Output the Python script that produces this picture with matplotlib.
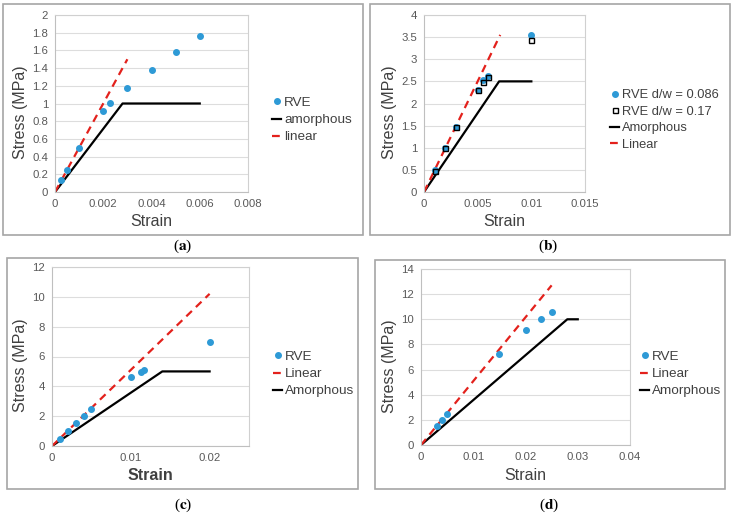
import matplotlib
matplotlib.use('Agg')
import matplotlib.pyplot as plt
from matplotlib.patches import Rectangle
from matplotlib.ticker import FuncFormatter

plt.rcParams['font.family'] = ['Liberation Sans', 'DejaVu Sans']
plt.rcParams['mathtext.fontset'] = 'stix'

# panel (a)
a_rve_x = [0.00025, 0.0005, 0.001, 0.002, 0.0023, 0.003, 0.004, 0.005, 0.006]
a_rve_y = [0.13, 0.25, 0.5, 0.92, 1.01, 1.18, 1.38, 1.58, 1.76]
a_amor_x = [0, 0.0028, 0.006]
a_amor_y = [0, 1.0, 1.0]
a_lin_x = [0, 0.003]
a_lin_y = [0, 1.5]

# panel (b)
b_rve1_x = [0.001, 0.002, 0.003, 0.005, 0.0055, 0.006, 0.01]
b_rve1_y = [0.5, 1.0, 1.48, 2.31, 2.52, 2.63, 3.55]
b_rve2_x = [0.001, 0.002, 0.003, 0.005, 0.0055, 0.006, 0.01]
b_rve2_y = [0.48, 0.99, 1.46, 2.30, 2.48, 2.59, 3.44]
b_amor_x = [0, 0.007, 0.01]
b_amor_y = [0, 2.5, 2.5]
b_lin_x = [0, 0.0071]
b_lin_y = [0, 3.55]

# panel (c)
c_rve_x = [0.001, 0.002, 0.003, 0.004, 0.005, 0.01, 0.0113, 0.0117, 0.02]
c_rve_y = [0.5, 1.0, 1.52, 2.01, 2.48, 4.62, 4.99, 5.1, 6.98]
c_amor_x = [0, 0.014, 0.02]
c_amor_y = [0, 5.0, 5.0]
c_lin_x = [0, 0.02]
c_lin_y = [0, 10.2]

# panel (d)
d_rve_x = [0.003, 0.004, 0.005, 0.015, 0.02, 0.023, 0.025]
d_rve_y = [1.5, 2.0, 2.5, 7.2, 9.15, 10.05, 10.6]
d_amor_x = [0, 0.028, 0.03]
d_amor_y = [0, 10.0, 10.0]
d_lin_x = [0, 0.025]
d_lin_y = [0, 12.7]

W, H = 734, 521
BLUE = '#2E9AD6'
RED = '#E3211C'
GRAY_TXT = '#595959'
DARK_TXT = '#404040'

fig = plt.figure(figsize=(W / 100, H / 100), dpi=100)
fig.patch.set_facecolor('white')


def px_axes(x0, y0, x1, y1):
    return fig.add_axes([x0 / W, 1 - y1 / H, (x1 - x0) / W, (y1 - y0) / H])


def box(x0, y0, x1, y1):
    fig.patches.append(Rectangle((x0 / W, 1 - y1 / H), (x1 - x0) / W, (y1 - y0) / H,
                                 transform=fig.transFigure, fill=False,
                                 edgecolor='#A6A6A6', lw=1.2))


def caption(x, y, letter):
    fig.text(x / W, 1 - y / H, '($\\mathbf{' + letter + '}$)', ha='center', va='center',
             fontsize=11, family='Liberation Serif', color='black')


fmt = FuncFormatter(lambda v, p: '%g' % round(v, 6))


def style(ax, xlim, xticks, ylim, yticks, bold_x=False):
    ax.set_xlim(*xlim)
    ax.set_ylim(*ylim)
    ax.set_xticks(xticks)
    ax.set_yticks(yticks)
    ax.xaxis.set_major_formatter(fmt)
    ax.yaxis.set_major_formatter(fmt)
    ax.tick_params(length=0, labelsize=8.2, labelcolor=GRAY_TXT, pad=5)
    ax.grid(axis='y', color='#DDDDDD', lw=0.8)
    ax.set_axisbelow(True)
    for s in ax.spines.values():
        s.set_color('#D0D0D0')
        s.set_linewidth(0.8)
    ax.spines['left'].set_color('#BFBFBF')
    ax.spines['bottom'].set_color('#BFBFBF')
    ax.set_xlabel('Strain', fontsize=11.5, color=DARK_TXT, labelpad=4,
                  fontweight='bold' if bold_x else 'normal')
    ax.set_ylabel('Stress (MPa)', fontsize=11.5, color=DARK_TXT, labelpad=3)
    ax.yaxis.label.set_y(0.45)


def legend(ax, x, y, order, fs=9.7):
    h, l = ax.get_legend_handles_labels()
    hd = dict(zip(l, h))
    ax.legend([hd[k] for k in order], order, loc='center left',
              bbox_to_anchor=(x / W, 1 - y / H), bbox_transform=fig.transFigure,
              frameon=False, fontsize=fs, handlelength=0.7, handletextpad=0.2,
              labelspacing=0.35, borderpad=0, borderaxespad=0,
              labelcolor=DARK_TXT, markerscale=1.0)


line_kw = dict(color='black', lw=1.6)
dash_kw = dict(color=RED, lw=1.6, dashes=(3.5, 2.5))
dot_kw = dict(ls='none', marker='o', ms=4, color=BLUE, mec=BLUE)

# (a)
box(3, 4, 363, 235)
ax = px_axes(55, 15, 248, 192)
ax.plot(a_amor_x, a_amor_y, label='amorphous', **line_kw)
ax.plot(a_lin_x, a_lin_y, label='linear', **dash_kw)
ax.plot(a_rve_x, a_rve_y, label='RVE', **dot_kw)
style(ax, (0, 0.008), [0, 0.002, 0.004, 0.006, 0.008], (0, 2),
      [0, 0.2, 0.4, 0.6, 0.8, 1, 1.2, 1.4, 1.6, 1.8, 2])
legend(ax, 272, 120, ['RVE', 'amorphous', 'linear'])
caption(183, 246, 'a')

# (b)
box(370, 4, 730, 235)
ax = px_axes(424, 15, 585, 192)
ax.plot(b_amor_x, b_amor_y, label='Amorphous', **line_kw)
ax.plot(b_lin_x, b_lin_y, label='Linear', **dash_kw)
ax.plot(b_rve1_x, b_rve1_y, label='RVE d/w = 0.086', **dot_kw)
ax.plot(b_rve2_x, b_rve2_y, ls='none', marker='s', ms=3.6, mfc='none', mec='black',
        mew=1.0, label='RVE d/w = 0.17')
style(ax, (0, 0.015), [0, 0.005, 0.01, 0.015], (0, 4),
      [0, 0.5, 1, 1.5, 2, 2.5, 3, 3.5, 4])
legend(ax, 610, 120, ['RVE d/w = 0.086', 'RVE d/w = 0.17', 'Amorphous', 'Linear'], fs=9.3)
caption(548, 246, 'b')

# (c)
box(7, 258, 358, 489)
ax = px_axes(52, 267, 249, 446)
ax.plot(c_amor_x, c_amor_y, label='Amorphous', **line_kw)
ax.plot(c_lin_x, c_lin_y, label='Linear', **dash_kw)
ax.plot(c_rve_x, c_rve_y, label='RVE', **dot_kw)
style(ax, (0, 0.025), [0, 0.01, 0.02], (0, 12), [0, 2, 4, 6, 8, 10, 12], bold_x=True)
legend(ax, 273, 374, ['RVE', 'Linear', 'Amorphous'])
caption(183, 505, 'c')

# (d)
box(375, 260, 725, 489)
ax = px_axes(421, 269, 630, 445)
ax.plot(d_amor_x, d_amor_y, label='Amorphous', **line_kw)
ax.plot(d_lin_x, d_lin_y, label='Linear', **dash_kw)
ax.plot(d_rve_x, d_rve_y, label='RVE', **dot_kw)
style(ax, (0, 0.04), [0, 0.01, 0.02, 0.03, 0.04], (0, 14), [0, 2, 4, 6, 8, 10, 12, 14])
legend(ax, 640, 374, ['RVE', 'Linear', 'Amorphous'])
caption(549, 505, 'd')

fig.savefig('out.png', dpi=100, facecolor='white')
